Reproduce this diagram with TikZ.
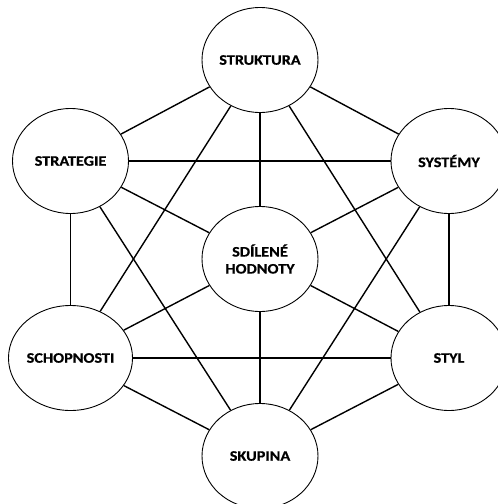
\documentclass[tikz,border=0pt]{standalone}
\usepackage{fontspec}
\newfontfamily\sevenfont[FakeStretch=1.12,BoldFeatures={FakeBold=0.6}]{Carlito}
\usetikzlibrary{shapes.geometric,positioning}

\begin{document}
\begin{tikzpicture}
      [ x=1pt, y=-1pt, node distance=0pt, on grid,
        factor/.style={ellipse, draw, line width=0.9pt, fill=white,
                       minimum width=116pt, minimum height=105pt, inner sep=0pt,
                       align=center, font=\sevenfont\bfseries\fontsize{14.5}{17}\selectfont},
        link/.style={line width=1.4pt}
      ]
      \useasboundingbox (0,0) rectangle (498,504);

      \node[factor] (struktura)  at (260,60)                               {STRUKTURA};
      \node[factor] (hodnoty)    [below=199pt of struktura]                {SDÍLENÉ\\HODNOTY};
      \node[factor] (skupina)    [below=197pt of hodnoty]                  {SKUPINA};
      \node[factor] (strategie)  [above left=98pt and 189.5pt of hodnoty]  {STRATEGIE};
      \node[factor] (systemy)    [above right=98pt and 189pt of hodnoty]   {SYSTÉMY};
      \node[factor] (schopnosti) [below left=99pt and 189.5pt of hodnoty]  {SCHOPNOSTI};
      \node[factor] (styl)       [below right=99pt and 189pt of hodnoty]   {STYL};

      \path[link] (struktura)  edge (strategie)
                               edge (systemy)
                               edge (hodnoty)
                               edge (schopnosti)
                               edge (styl)
                  (strategie)  edge (systemy)
                               edge (hodnoty)
                               edge (schopnosti)
                               edge (skupina)
                  (systemy)    edge (hodnoty)
                               edge (styl)
                               edge (skupina)
                  (hodnoty)    edge (schopnosti)
                               edge (styl)
                               edge (skupina)
                  (schopnosti) edge (styl)
                               edge (skupina)
                  (styl)       edge (skupina);
    \end{tikzpicture}
\end{document}
